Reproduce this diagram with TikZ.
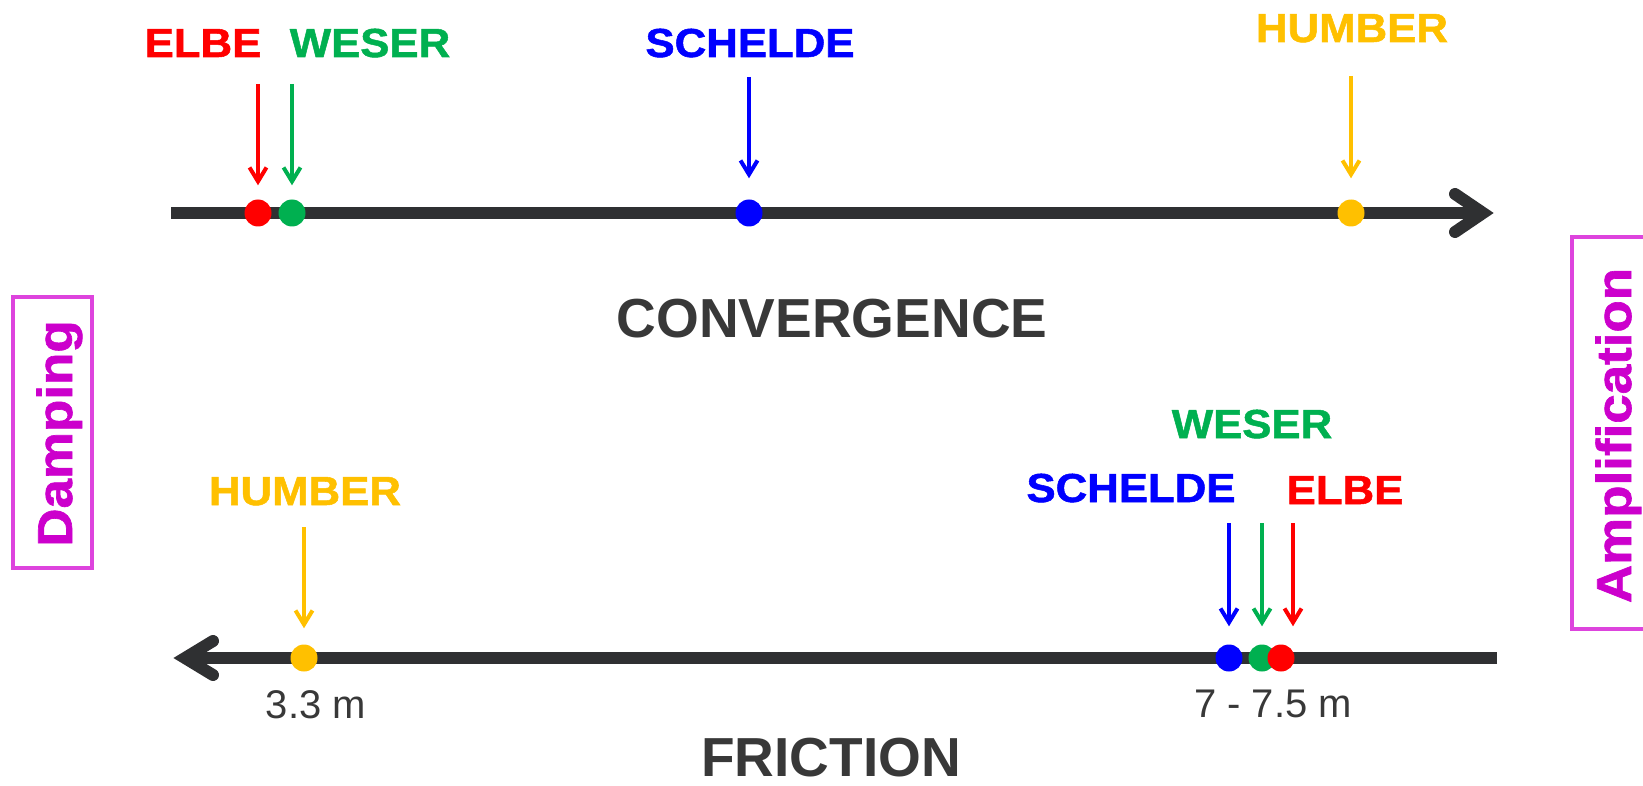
\documentclass[tikz,border=0pt]{standalone}
\usepackage{fontspec}
\setmainfont{Liberation Sans}
\newfontfamily\labfont[FakeStretch=1.08,FakeBold=1.3]{Liberation Sans Bold}
\usetikzlibrary{arrows.meta}
\definecolor{cRed}{HTML}{FF0000}
\definecolor{cGreen}{HTML}{00B050}
\definecolor{cBlue}{HTML}{0000FF}
\definecolor{cYellow}{HTML}{FFC000}
\definecolor{cAxis}{HTML}{2F3032}
\definecolor{cText}{HTML}{383838}
\definecolor{cMag}{HTML}{CC00CC}
\definecolor{cMagBox}{HTML}{DD44DD}
\begin{document}
\begin{tikzpicture}[x=1pt,y=-1pt,
  lab/.style={font=\labfont\fontsize{40.5}{40.5}\selectfont, anchor=base, inner sep=0pt},
  title/.style={font=\bfseries\fontsize{55}{55}\selectfont, text=cText, anchor=base, inner sep=0pt},
  val/.style={font=\fontsize{40}{40}\selectfont, text=cText, anchor=base, inner sep=0pt},
  side/.style={font=\labfont\fontsize{49}{49}\selectfont, text=cMag, anchor=base, rotate=90, inner sep=0pt},
  sidebox/.style={draw=cMagBox, line width=3.5pt},
  axis/.style={draw=cAxis, line width=12pt},
  chev/.style={draw=cAxis, line width=12pt, line cap=round, line join=miter},
  dot/.style={circle, minimum size=27pt, inner sep=0pt, draw=none},
  marker/.style={line width=4pt, -{Straight Barb[length=14pt,width=17pt]}},
]
\useasboundingbox (0,0) rectangle (1643,786);

% ---------- top axis (convergence) ----------
\coordinate (t0) at (171,213);
\coordinate (t1) at (1483,213);
\coordinate (tu) at (1455,194);
\coordinate (tl) at (1455,232);
\draw[axis] (t0) -- (t1);
\draw[chev] (tu) -- (t1) -- (tl);

\node[dot, fill=cRed]    (de) at (258,213) {};
\node[dot, fill=cGreen]  (dw) at (292,213) {};
\node[dot, fill=cBlue]   (ds) at (749,213) {};
\node[dot, fill=cYellow] (dh) at (1351,213) {};

\coordinate (ae) at (258,84);
\coordinate (aw) at (292,84);
\coordinate (as) at (749,77);
\coordinate (ah) at (1351,76);
\draw[marker, cRed]    (ae) -- ([yshift=14pt]de.north);
\draw[marker, cGreen]  (aw) -- ([yshift=14pt]dw.north);
\draw[marker, cBlue]   (as) -- ([yshift=21pt]ds.north);
\draw[marker, cYellow] (ah) -- ([yshift=21pt]dh.north);

\node[lab, text=cRed]    (le) at (203,57) {ELBE};
\node[lab, text=cGreen]  (lw) at (370,57) {WESER};
\node[lab, text=cBlue]   (ls) at (750,57) {SCHELDE};
\node[lab, text=cYellow] (lh) at (1352,42) {HUMBER};

\node[title] (conv) at (832,337) {CONVERGENCE};

% ---------- bottom axis (friction) ----------
\coordinate (b0) at (1497,658);
\coordinate (b1) at (185,658);
\coordinate (bu) at (213,641);
\coordinate (bl) at (213,675);
\draw[axis] (b0) -- (b1);
\draw[chev] (bu) -- (b1) -- (bl);

\node[dot, fill=cYellow] (eh) at (304,658) {};
\node[dot, fill=cBlue]   (es) at (1229,658) {};
\node[dot, fill=cGreen]  (ew) at (1262,658) {};
\node[dot, fill=cRed]    (ee) at (1281,658) {};

\coordinate (bh) at (304,527);
\coordinate (bs) at (1229,523);
\coordinate (bw) at (1262,523);
\coordinate (be) at (1293,523);
\draw[marker, cYellow] (bh) -- ([yshift=16pt]eh.north);
\draw[marker, cBlue]   (bs) -- ([yshift=18pt]es.north);
\draw[marker, cGreen]  (bw) -- ([yshift=18pt]ew.north);
\draw[marker, cRed]    (be) -- ([xshift=12pt,yshift=18pt]ee.north);

\node[lab, text=cYellow] (mh) at (305,505) {HUMBER};
\node[lab, text=cBlue]   (ms) at (1131,502) {SCHELDE};
\node[lab, text=cGreen]  (mw) at (1252,438) {WESER};
\node[lab, text=cRed]    (me) at (1345,504) {ELBE};

\node[val] (v1) at (316,718) {3.3 m};
\node[val] (v2) at (1273,717) {7 - 7.5 m};

\node[title] (fric) at (831,776) {FRICTION};

% ---------- side labels ----------
\draw[sidebox] (13,297) rectangle (92,568);
\node[side] (damp) at (72,433.5) {Damping};
\draw[sidebox] (1645,237) -- (1572,237) -- (1572,629) -- (1645,629);
\node[side] (ampl) at (1631,435.5) {Amplification};
\end{tikzpicture}
\end{document}
